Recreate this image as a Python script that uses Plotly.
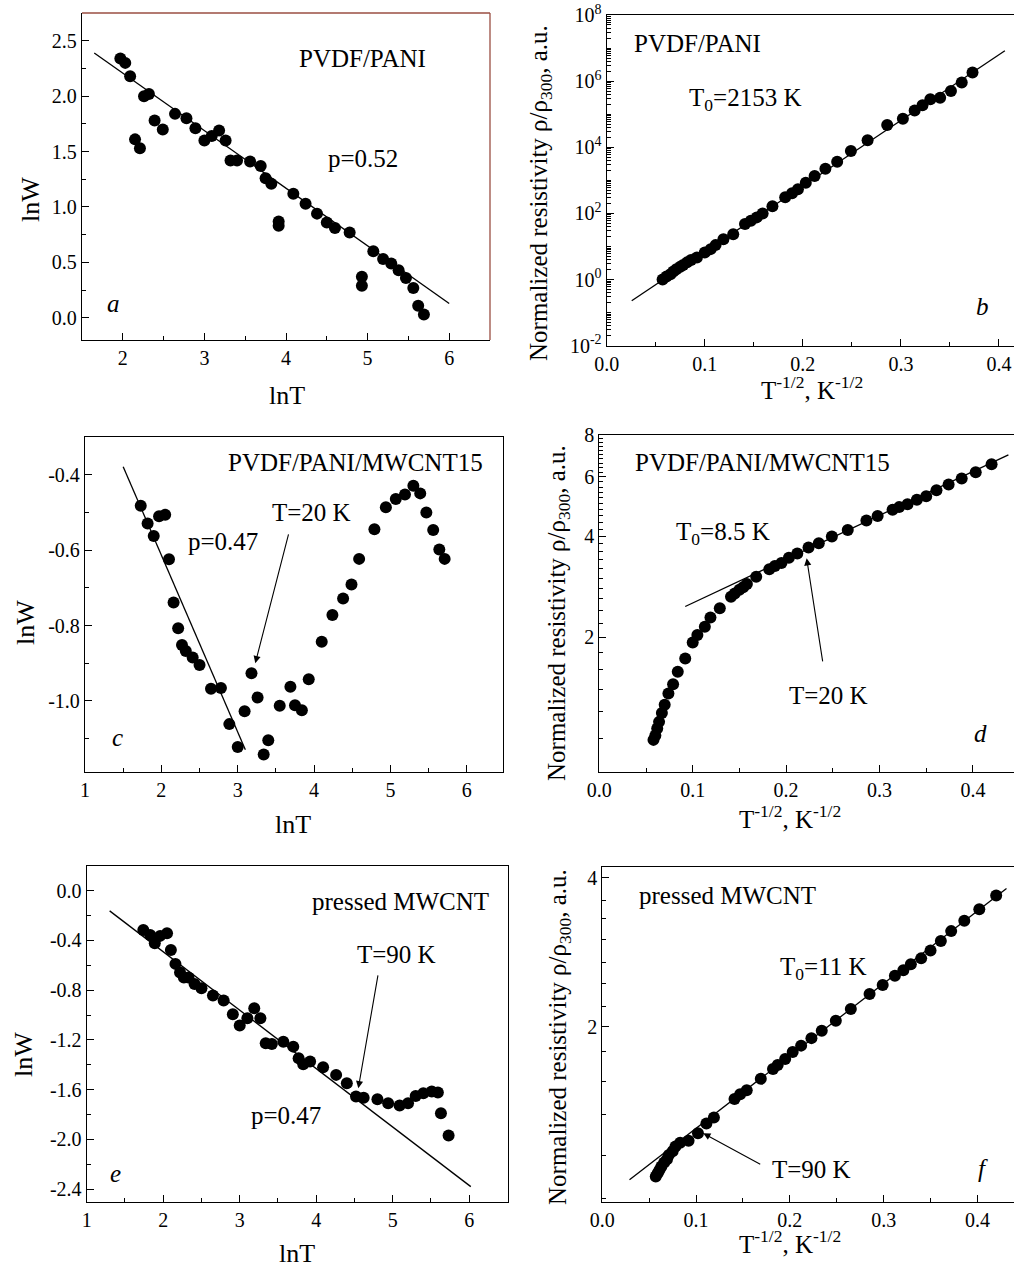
import plotly.graph_objects as go
import numpy as np

W, H = 1014, 1268
FONT = "Liberation Serif"

# ---------------- Panel a : PVDF/PANI, lnW vs lnT ----------------
a_lnT = [1.97, 2.03, 2.09, 2.15, 2.21, 2.26, 2.32, 2.39, 2.49, 2.64, 2.78, 2.89, 3.00, 3.09,
         3.18, 3.26, 3.32, 3.40, 3.56, 3.69, 3.75, 3.82, 3.91, 3.91, 4.09, 4.24, 4.38, 4.50,
         4.60, 4.78, 4.93, 4.93, 5.07, 5.19, 5.29, 5.38, 5.47, 5.56, 5.62, 5.69]
a_lnW = [2.34, 2.30, 2.18, 1.61, 1.53, 2.00, 2.02, 1.78, 1.70, 1.84, 1.80, 1.71, 1.60, 1.64,
         1.69, 1.60, 1.42, 1.42, 1.41, 1.37, 1.26, 1.21, 0.87, 0.83, 1.12, 1.03, 0.94, 0.86,
         0.81, 0.77, 0.37, 0.29, 0.60, 0.53, 0.49, 0.43, 0.36, 0.27, 0.11, 0.03]
a_fit_x = [1.65, 6.0]
a_fit_y = [2.39, 0.13]

# ---------------- Panel b : PVDF/PANI, rho vs T^-1/2 ----------------
b_x = [0.057, 0.061, 0.065, 0.068, 0.071, 0.075, 0.078, 0.082, 0.086, 0.092, 0.100, 0.106,
       0.111, 0.119, 0.129, 0.141, 0.147, 0.153, 0.159, 0.169, 0.182, 0.189, 0.195, 0.203,
       0.212, 0.223, 0.235, 0.249, 0.266, 0.286, 0.302, 0.314, 0.322, 0.330, 0.340, 0.351,
       0.362, 0.373]
b_rho = [1.0, 1.23, 1.45, 1.74, 2.04, 2.45, 2.75, 3.31, 3.89, 4.68, 6.61, 8.32,
         11.0, 16.6, 23.4, 47.9, 60.3, 75.9, 100, 166, 309, 407, 537, 851,
         1350, 2240, 3630, 7760, 1.62e4, 4.68e4, 7.24e4, 1.29e5, 1.86e5, 2.82e5, 3.16e5, 5.01e5,
         9.12e5, 1.82e6]
b_fit_x = [0.0255, 0.406]
b_fit_y = [0.229, 8.3e6]

# ---------------- Panel c : PVDF/PANI/MWCNT15, lnW vs lnT ----------------
c_lnT = [1.73, 1.82, 1.90, 1.97, 2.05, 2.10, 2.16, 2.22, 2.27, 2.32, 2.41, 2.50, 2.65, 2.78,
         2.89, 3.00, 3.09, 3.18, 3.26, 3.34, 3.40, 3.55, 3.69, 3.75, 3.84, 3.93, 4.10, 4.24,
         4.38, 4.49, 4.59, 4.79, 4.94, 5.07, 5.19, 5.30, 5.39, 5.47, 5.56, 5.64, 5.71]
c_lnW = [-0.482, -0.529, -0.562, -0.510, -0.506, -0.624, -0.739, -0.807, -0.852, -0.868,
         -0.885, -0.905, -0.968, -0.966, -1.062, -1.123, -1.028, -0.927, -0.991, -1.143,
         -1.105, -1.013, -0.963, -1.012, -1.025, -0.943, -0.843, -0.772, -0.728, -0.691,
         -0.623, -0.544, -0.486, -0.464, -0.452, -0.429, -0.449, -0.500, -0.546, -0.598, -0.623]
c_fit_x = [1.50, 3.10]
c_fit_y = [-0.378, -1.130]

# ---------------- Panel d : PVDF/PANI/MWCNT15, rho vs T^-1/2 ----------------
d_x = [0.058, 0.060, 0.062, 0.064, 0.067, 0.070, 0.074, 0.079, 0.084, 0.092, 0.100, 0.105,
       0.113, 0.119, 0.129, 0.141, 0.145, 0.150, 0.154, 0.158, 0.168, 0.182, 0.188, 0.195,
       0.203, 0.212, 0.224, 0.235, 0.249, 0.266, 0.286, 0.298, 0.314, 0.321, 0.330, 0.340,
       0.350, 0.361, 0.374, 0.388, 0.403, 0.420]
d_rho = [0.99, 1.02, 1.07, 1.12, 1.19, 1.26, 1.36, 1.45, 1.58, 1.73, 1.93, 2.03,
         2.15, 2.29, 2.44, 2.64, 2.70, 2.77, 2.82, 2.88, 3.03, 3.19, 3.26, 3.33,
         3.45, 3.55, 3.70, 3.81, 3.99, 4.17, 4.45, 4.59, 4.79, 4.88, 4.98, 5.13,
         5.26, 5.48, 5.70, 5.94, 6.20, 6.55]
d_fit_x = [0.092, 0.438]
d_fit_y = [2.47, 6.98]

# ---------------- Panel e : pressed MWCNT, lnW vs lnT ----------------
e_lnT = [1.74, 1.83, 1.89, 1.96, 2.05, 2.10, 2.16, 2.22, 2.27, 2.33, 2.41, 2.50, 2.65, 2.79,
         2.91, 3.00, 3.10, 3.19, 3.27, 3.34, 3.42, 3.57, 3.70, 3.77, 3.83, 3.92, 4.09, 4.26,
         4.40, 4.52, 4.62, 4.80, 4.94, 5.09, 5.20, 5.30, 5.40, 5.51, 5.59, 5.63, 5.73]
e_lnW = [-0.316, -0.356, -0.423, -0.364, -0.343, -0.477, -0.589, -0.659, -0.699, -0.699,
         -0.750, -0.785, -0.844, -0.884, -0.994, -1.085, -1.026, -0.946, -1.026, -1.227,
         -1.232, -1.214, -1.254, -1.347, -1.396, -1.374, -1.420, -1.481, -1.548, -1.655,
         -1.664, -1.677, -1.709, -1.728, -1.709, -1.650, -1.629, -1.615, -1.623, -1.790, -1.969]
e_fit_x = [1.30, 6.02]
e_fit_y = [-0.163, -2.379]

# ---------------- Panel f : pressed MWCNT, rho vs T^-1/2 ----------------
f_x = [0.057, 0.059, 0.061, 0.063, 0.066, 0.069, 0.071, 0.075, 0.078, 0.083, 0.092, 0.102,
       0.111, 0.119, 0.141, 0.147, 0.154, 0.169, 0.182, 0.187, 0.195, 0.203, 0.212, 0.223,
       0.234, 0.249, 0.265, 0.285, 0.299, 0.312, 0.321, 0.329, 0.340, 0.350, 0.361, 0.372,
       0.386, 0.402, 0.420]
f_rho = [0.997, 1.012, 1.028, 1.045, 1.064, 1.081, 1.102, 1.122, 1.146, 1.167, 1.178, 1.219,
         1.276, 1.312, 1.429, 1.462, 1.489, 1.570, 1.644, 1.675, 1.722, 1.778, 1.832, 1.897,
         1.963, 2.056, 2.173, 2.328, 2.427, 2.535, 2.600, 2.673, 2.748, 2.851, 2.979, 3.119,
         3.273, 3.451, 3.681]
f_fit_x = [0.029, 0.431]
f_fit_y = [0.982, 3.80]

# tick labels
lnT_ticks = [1, 2, 3, 4, 5, 6]
lnT_text = ["1", "2", "3", "4", "5", "6"]
x_rho_ticks = [0.0, 0.1, 0.2, 0.3, 0.4]
x_rho_text = ["0.0", "0.1", "0.2", "0.3", "0.4"]
a_yticks = [0.0, 0.5, 1.0, 1.5, 2.0, 2.5]
a_ytext = ["0.0", "0.5", "1.0", "1.5", "2.0", "2.5"]
b_yticks = [1e-2, 1e0, 1e2, 1e4, 1e6, 1e8]
b_ytext = ["10<sup>-2</sup>", "10<sup>0</sup>", "10<sup>2</sup>", "10<sup>4</sup>",
           "10<sup>6</sup>", "10<sup>8</sup>"]
c_yticks = [-1.0, -0.8, -0.6, -0.4]
c_ytext = ["-1.0", "-0.8", "-0.6", "-0.4"]
d_yticks = [2, 4, 6, 8]
d_ytext = ["2", "4", "6", "8"]
e_yticks = [-2.4, -2.0, -1.6, -1.2, -0.8, -0.4, 0.0]
e_ytext = ["-2.4", "-2.0", "-1.6", "-1.2", "-0.8", "-0.4", "0.0"]
f_yticks = [2, 4]
f_ytext = ["2", "4"]

# ---------------- layout geometry (pixels) ----------------
def dom_x(l, r):
    return [l / W, min(r / W, 1.0)]

def dom_y(t, b):
    return [1 - b / H, 1 - t / H]

panels = {
    "a": dict(x=dom_x(82, 490), y=dom_y(13, 340)),
    "b": dict(x=dom_x(606.7, 1014), y=dom_y(15, 345.7)),
    "c": dict(x=dom_x(85, 502.7), y=dom_y(437.3, 772.3)),
    "d": dict(x=dom_x(599.3, 1014), y=dom_y(435, 771.7)),
    "e": dict(x=dom_x(86.7, 507.5), y=dom_y(865.7, 1202.3)),
    "f": dict(x=dom_x(602.3, 1014), y=dom_y(866.7, 1201.7)),
}

tickfont = dict(family=FONT, size=20, color="black")

def axis(domain, anchor, rng, tickvals, ticktext, minor_vals, typ="linear", linecolor="black", mirror=True):
    return dict(
        domain=domain, anchor=anchor, range=rng, type=typ, automargin=False,
        showline=True, linecolor=linecolor, linewidth=1.3, mirror=mirror,
        ticks="inside", ticklen=7, tickwidth=1.2, tickcolor="black",
        tickmode="array", tickvals=tickvals, ticktext=ticktext,
        minor=dict(tickmode="array", tickvals=minor_vals, ticks="inside", ticklen=4,
                   tickwidth=1, tickcolor="black"),
        showgrid=False, zeroline=False, tickfont=tickfont,
    )

def log_minor(d0, d1):
    return [k * 10.0 ** d for d in range(d0, d1) for k in range(1, 10)]

fig = go.Figure()

def add_panel(n, xs, ys, fx, fy):
    suffix = "" if n == 1 else str(n)
    fig.add_trace(go.Scatter(x=fx, y=fy, mode="lines", line=dict(color="black", width=1.3),
                             xaxis="x" + suffix, yaxis="y" + suffix, showlegend=False))
    fig.add_trace(go.Scatter(x=xs, y=ys, mode="markers",
                             marker=dict(color="black", size=12, line=dict(width=0)),
                             xaxis="x" + suffix, yaxis="y" + suffix, showlegend=False))

add_panel(1, a_lnT, a_lnW, a_fit_x, a_fit_y)
add_panel(2, b_x, b_rho, b_fit_x, b_fit_y)
add_panel(3, c_lnT, c_lnW, c_fit_x, c_fit_y)
add_panel(4, d_x, d_rho, d_fit_x, d_fit_y)
add_panel(5, e_lnT, e_lnW, e_fit_x, e_fit_y)
add_panel(6, f_x, f_rho, f_fit_x, f_fit_y)

half_lnT = [1.5, 2.5, 3.5, 4.5, 5.5]
half_x = [0.05, 0.15, 0.25, 0.35]

fig.update_layout(
    width=W, height=H, margin=dict(l=0, r=0, t=0, b=0, pad=0, autoexpand=False),
    paper_bgcolor="white", plot_bgcolor="white",
    font=dict(family=FONT, color="black"),
    xaxis=axis(panels["a"]["x"], "y", [1.5, 6.5], [2, 3, 4, 5, 6], ["2", "3", "4", "5", "6"], half_lnT, mirror=False),
    yaxis=axis(panels["a"]["y"], "x", [-0.2, 2.75], a_yticks, a_ytext,
               [0.25, 0.75, 1.25, 1.75, 2.25], mirror=False),
    xaxis2=axis(panels["b"]["x"], "y2", [0, 0.4153], x_rho_ticks, x_rho_text, half_x),
    yaxis2=axis(panels["b"]["y"], "x2", [-2, 8], b_yticks, b_ytext, log_minor(-2, 8), typ="log"),
    xaxis3=axis(panels["c"]["x"], "y3", [1, 6.47], lnT_ticks, lnT_text, half_lnT),
    yaxis3=axis(panels["c"]["y"], "x3", [-1.19, -0.3], c_yticks, c_ytext,
                [-1.1, -0.9, -0.7, -0.5, -0.3]),
    xaxis4=axis(panels["d"]["x"], "y4", [0, 0.444], x_rho_ticks, x_rho_text, half_x),
    yaxis4=axis(panels["d"]["y"], "x4", [np.log10(0.796), np.log10(8)], d_yticks, d_ytext,
                [0.8, 1.0, 1.2, 1.4, 1.6, 1.8, 2.2, 2.4, 2.6, 2.8, 3.0, 3.2, 3.4, 3.6, 3.8,
                 4.2, 4.4, 4.6, 4.8, 5.0, 5.2, 5.4, 5.6, 5.8, 6.2, 6.4, 6.6, 6.8, 7.0, 7.2,
                 7.4, 7.6, 7.8], typ="log"),
    xaxis5=axis(panels["e"]["x"], "y5", [1, 6.5], lnT_ticks, lnT_text, half_lnT),
    yaxis5=axis(panels["e"]["y"], "x5", [-2.505, 0.2], e_yticks, e_ytext,
                [-2.2, -1.8, -1.4, -1.0, -0.6, -0.2]),
    xaxis6=axis(panels["f"]["x"], "y6", [0, 0.439], x_rho_ticks, x_rho_text, half_x),
    yaxis6=axis(panels["f"]["y"], "x6", [-0.052, 0.624], f_yticks, f_ytext,
                [0.9, 1.1, 1.33, 1.55, 1.78, 2.2, 2.45, 2.7, 3.0, 3.3, 3.6], typ="log"),
)

# brownish top/right frame of panel a
fig.add_shape(type="line", xref="x domain", yref="y domain", x0=0, x1=1, y0=1, y1=1,
              line=dict(color="#9a4e42", width=1.3))
fig.add_shape(type="line", xref="x domain", yref="y domain", x0=1, x1=1, y0=0, y1=1,
              line=dict(color="#9a4e42", width=1.3))

ann = []

def txt(text, x, y, xref, yref, size=25, **kw):
    d = dict(text=text, x=x, y=y, xref=xref, yref=yref, showarrow=False,
             font=dict(family=FONT, size=size, color="black"), xanchor="center", yanchor="middle")
    d.update(kw)
    ann.append(d)

def arrow(x, y, ax, ay, xref, yref):
    ann.append(dict(text="", x=x, y=y, ax=ax, ay=ay, xref=xref, yref=yref, axref=xref, ayref=yref,
                    showarrow=True, arrowhead=2, arrowsize=1.3, arrowwidth=1.1, arrowcolor="black"))

# panel a
txt("PVDF/PANI", 4.94, 2.34, "x", "y")
txt("p=0.52", 4.94, 1.44, "x", "y")
txt("<i>a</i>", 1.88, 0.13, "x", "y")
# panel b
txt("PVDF/PANI", 0.093, 7.15, "x2", "y2")
txt("T<sub>0</sub>=2153 K", 0.141, 5.43, "x2", "y2")
txt("<i>b</i>", 0.383, -0.80, "x2", "y2")
# panel c
txt("PVDF/PANI/MWCNT15", 4.54, -0.368, "x3", "y3")
txt("p=0.47", 2.81, -0.578, "x3", "y3")
txt("T=20 K", 3.97, -0.50, "x3", "y3")
txt("<i>c</i>", 1.42, -1.097, "x3", "y3")
arrow(3.23, -0.90, 3.67, -0.554, "x3", "y3")
# panel d
txt("PVDF/PANI/MWCNT15", 0.175, 0.82, "x4", "y4")
txt("T<sub>0</sub>=8.5 K", 0.132, 0.611, "x4", "y4")
txt("T=20 K", 0.245, 0.129, "x4", "y4")
txt("<i>d</i>", 0.408, 0.016, "x4", "y4")
arrow(0.222, 0.536, 0.2394, 0.225, "x4", "y4")
# panel e
txt("pressed MWCNT", 5.10, -0.088, "x5", "y5")
txt("T=90 K", 5.05, -0.516, "x5", "y5")
txt("p=0.47", 3.61, -1.81, "x5", "y5")
txt("<i>e</i>", 1.38, -2.27, "x5", "y5")
arrow(4.55, -1.588, 4.81, -0.67, "x5", "y5")
# panel f
txt("pressed MWCNT", 0.133, 0.566, "x6", "y6")
txt("T<sub>0</sub>=11 K", 0.2355, 0.419, "x6", "y6")
txt("T=90 K", 0.2227, 0.012, "x6", "y6")
txt("<i>f</i>", 0.406, 0.016, "x6", "y6")
arrow(0.1077, 0.086, 0.170, 0.022, "x6", "y6")

# axis titles (paper coordinates from pixel positions)
def ptxt(text, px, py, angle=0, size=26):
    ann.append(dict(text=text, x=px / W, y=1 - py / H, xref="paper", yref="paper",
                    showarrow=False, textangle=angle, xanchor="center", yanchor="middle",
                    font=dict(family=FONT, size=size, color="black")))

rho_title = "Normalized resistivity ρ/ρ<sub>300</sub>, a.u."
x_rho_title = "T<sup>-1/2</sup>, K<sup>-1/2</sup>"
ptxt("lnW", 30, 200, -90)
ptxt("lnW", 25, 623, -90)
ptxt("lnW", 23, 1055, -90)
ptxt("lnT", 287, 395)
ptxt("lnT", 293, 825)
ptxt("lnT", 297, 1253)
ptxt(rho_title, 541, 193, -90, 25)
ptxt(rho_title, 558, 613, -90, 25)
ptxt(rho_title, 559, 1037, -90, 25)
ptxt(x_rho_title, 812, 388, 0, 25)
ptxt(x_rho_title, 790, 817, 0, 25)
ptxt(x_rho_title, 790, 1242, 0, 25)

fig.update_layout(annotations=ann)
fig.write_html("out.html", config={"displayModeBar": False},
               post_script="document.body.style.margin='0';document.body.style.overflow='hidden';")
